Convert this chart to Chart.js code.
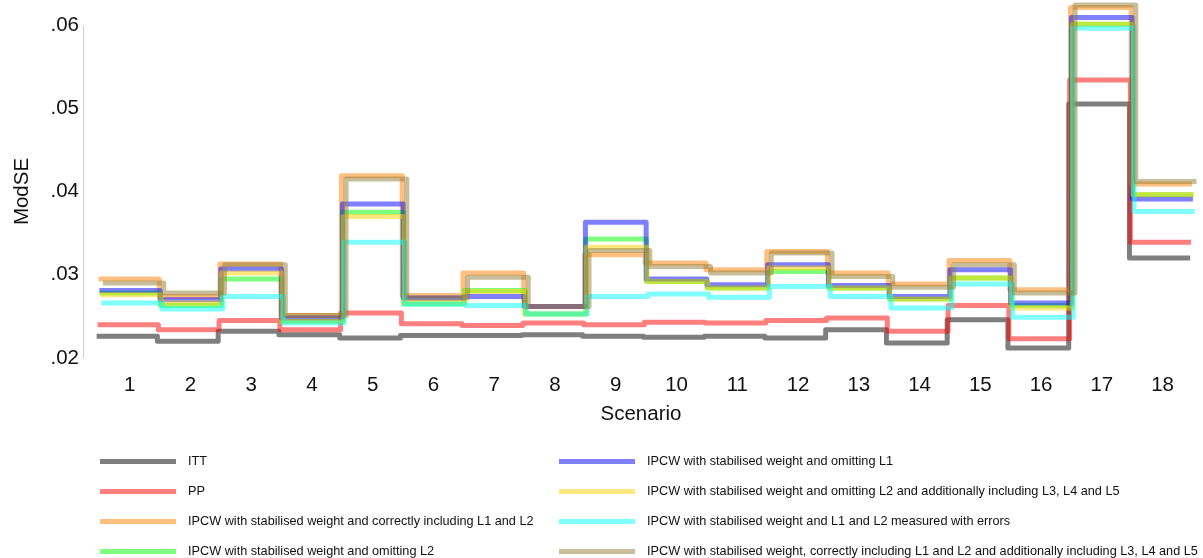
<!DOCTYPE html>
<html>
<head>
<meta charset="utf-8">
<script src="https://cdn.jsdelivr.net/npm/chart.js@4"></script>
<style>
  body { margin: 0; background: #fff; font-family: "Liberation Sans", Arial, sans-serif; }
  #wrap { position: relative; width: 1203px; height: 558px; }
  #legend { position: absolute; left: 0; top: 0; width: 1203px; height: 558px; pointer-events: none; }
  .item { position: absolute; height: 16px; font-size: 12.7px; color: #111; white-space: nowrap; }
  .item .sw { position: absolute; left: 0; top: 6px; width: 76px; height: 5px; }
  .item .tx { position: absolute; left: 88px; top: 0; line-height: 16px; }
</style>
</head>
<body>
<div id="wrap">
  <canvas id="chart" width="1203" height="440"></canvas>
  <div id="legend"></div>
</div>
<script>
const scenarios = [1, 2, 3, 4, 5, 6, 7, 8, 9, 10, 11, 12, 13, 14, 15, 16, 17, 18];

const itt         = [0.0226, 0.0220, 0.0232, 0.0228, 0.0224, 0.0227, 0.0227, 0.0228, 0.0226, 0.0225, 0.0226, 0.0224, 0.0234, 0.0218, 0.0246, 0.0212, 0.0505, 0.0320];
const pp          = [0.0240, 0.0234, 0.0245, 0.0234, 0.0254, 0.0241, 0.0239, 0.0242, 0.0240, 0.0243, 0.0242, 0.0245, 0.0248, 0.0232, 0.0263, 0.0223, 0.0534, 0.0339];
const correctL1L2 = [0.0295, 0.0274, 0.0313, 0.0251, 0.0419, 0.0275, 0.0302, 0.0262, 0.0324, 0.0314, 0.0306, 0.0328, 0.0302, 0.0289, 0.0317, 0.0282, 0.0621, 0.0409];
const omitL2      = [0.0278, 0.0263, 0.0295, 0.0244, 0.0375, 0.0265, 0.0281, 0.0253, 0.0343, 0.0292, 0.0284, 0.0304, 0.0284, 0.0271, 0.0296, 0.0263, 0.0601, 0.0396];
const omitL1      = [0.0281, 0.0270, 0.0307, 0.0248, 0.0385, 0.0272, 0.0274, 0.0262, 0.0363, 0.0295, 0.0288, 0.0312, 0.0287, 0.0274, 0.0306, 0.0266, 0.0609, 0.0391];
const omitL2AddL3 = [0.0276, 0.0266, 0.0302, 0.0244, 0.0370, 0.0267, 0.0280, 0.0253, 0.0333, 0.0292, 0.0284, 0.0308, 0.0284, 0.0271, 0.0296, 0.0260, 0.0601, 0.0396];
const withErrors  = [0.0266, 0.0259, 0.0274, 0.0242, 0.0339, 0.0265, 0.0263, 0.0253, 0.0274, 0.0277, 0.0273, 0.0286, 0.0274, 0.0260, 0.0289, 0.0249, 0.0596, 0.0376];
const correctAddL3 = [0.0290, 0.0278, 0.0312, 0.0251, 0.0415, 0.0272, 0.0297, 0.0262, 0.0329, 0.0310, 0.0302, 0.0326, 0.0298, 0.0285, 0.0312, 0.0278, 0.0624, 0.0412];

const yTicks = [0.02, 0.03, 0.04, 0.05, 0.06];

const seriesNames = [
  'ITT',
  'PP',
  'IPCW with stabilised weight and correctly including L1 and L2',
  'IPCW with stabilised weight and omitting L2',
  'IPCW with stabilised weight and omitting L1',
  'IPCW with stabilised weight and omitting L2 and additionally including L3, L4 and L5',
  'IPCW with stabilised weight and L1 and L2 measured with errors',
  'IPCW with stabilised weight, correctly including L1 and L2 and additionally including L3, L4 and L5'
];
const seriesValues = [itt, pp, correctL1L2, omitL2, omitL1, omitL2AddL3, withErrors, correctAddL3];
const seriesColors = [
  'rgba(0,0,0,0.5)',
  'rgba(255,0,0,0.5)',
  'rgba(255,128,0,0.5)',
  'rgba(0,255,0,0.5)',
  'rgba(0,0,255,0.5)',
  'rgba(255,210,0,0.5)',
  'rgba(0,255,255,0.5)',
  'rgba(145,125,55,0.5)'
];
// small horizontal nudge so overlapping steps stay visible
const nudge = [-0.045, -0.03, -0.015, 0.005, 0.0, 0.015, 0.03, 0.06];

// each scenario is a flat step from s-0.5 to s+0.5
function stepPoints(values, shift) {
  const pts = scenarios.map((s, i) => ({x: s - 0.5 + shift, y: values[i]}));
  const last = scenarios.length - 1;
  pts.push({x: scenarios[last] + 0.5 + shift, y: values[last]});
  return pts;
}

const datasets = seriesNames.map((name, k) => ({
  label: name,
  data: stepPoints(seriesValues[k], nudge[k]),
  borderColor: seriesColors[k],
  backgroundColor: seriesColors[k],
  borderWidth: 5,
  borderJoinStyle: 'round',
  stepped: 'before',
  pointRadius: 0,
  fill: false,
  clip: false,
  order: seriesNames.length - 1 - k,
}));

const font = 'Liberation Sans, Arial, sans-serif';
const axisSize = 20.5;

new Chart(document.getElementById('chart').getContext('2d'), {
  type: 'line',
  data: {datasets},
  options: {
    responsive: false,
    animation: false,
    layout: {padding: {top: 25, right: 4, left: 0, bottom: 0}},
    plugins: {
      legend: {display: false},
      tooltip: {enabled: false},
    },
    scales: {
      x: {
        type: 'linear',
        min: 0.23,
        max: 18.6,
        grid: {display: false, drawTicks: false},
        border: {display: false},
        afterBuildTicks: (scale) => { scale.ticks = scenarios.map(v => ({value: v})); },
        ticks: {
          padding: 15,
          color: '#111',
          font: {family: font, size: axisSize},
          maxRotation: 0,
          callback: (v) => String(v),
        },
        title: {
          display: true,
          text: 'Scenario',
          color: '#111',
          font: {family: font, size: axisSize},
          padding: {top: 0, bottom: 13},
        },
        afterFit: (scale) => { scale.height = 82; },
      },
      y: {
        min: 0.02,
        max: 0.06,
        grid: {display: false, drawTicks: false},
        border: {display: true, color: '#d0d0d0', width: 1},
        afterBuildTicks: (scale) => { scale.ticks = yTicks.map(v => ({value: v})); },
        ticks: {
          padding: 4,
          color: '#111',
          font: {family: font, size: axisSize},
          callback: (v) => '.' + String(Math.round(v * 100)).padStart(2, '0'),
        },
        title: {
          display: true,
          text: 'ModSE',
          color: '#111',
          font: {family: font, size: axisSize},
          padding: {top: 10, bottom: 0},
        },
        afterFit: (scale) => { scale.width = 83; },
      },
    },
  },
});

// two-column legend, filled column by column
const legend = document.getElementById('legend');
const rowTops = [453, 483, 513, 543];
const colLefts = [100, 559];
seriesNames.forEach((name, k) => {
  const col = Math.floor(k / 4), row = k % 4;
  const div = document.createElement('div');
  div.className = 'item';
  div.style.left = colLefts[col] + 'px';
  div.style.top = rowTops[row] + 'px';
  div.innerHTML = '<span class="sw" style="background:' + seriesColors[k] + '"></span><span class="tx"></span>';
  div.querySelector('.tx').textContent = name;
  legend.appendChild(div);
});
</script>
</body>
</html>
